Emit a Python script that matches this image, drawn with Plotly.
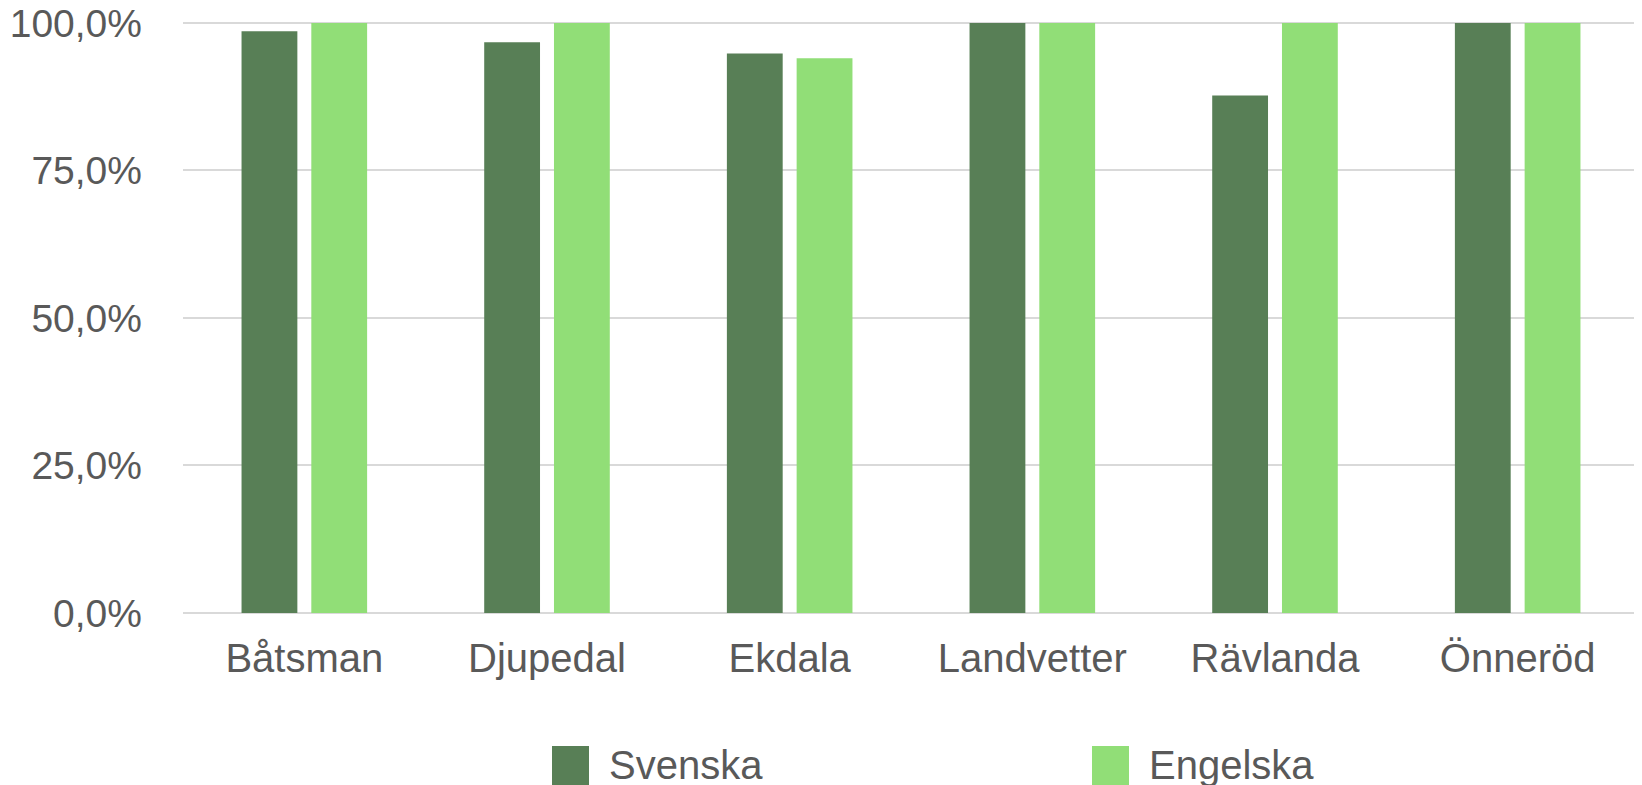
import plotly.graph_objects as go

categories = ["Båtsman", "Djupedal", "Ekdala", "Landvetter", "Rävlanda", "Önneröd"]
svenska = [0.986, 0.967, 0.948, 1.0, 0.877, 1.0]
engelska = [1.0, 1.0, 0.940, 1.0, 1.0, 1.0]
series_names = ["Svenska", "Engelska"]
series_colors = ["#587F56", "#91DE77"]
y_ticks = [0, 0.25, 0.5, 0.75, 1.0]

# the page body has an 8px margin, so the figure is drawn 8px smaller and offset
OFF = 8
W, H = 1642 - OFF, 785 - OFF
ML, MR, MT, MB = 183 - OFF, 3, 17 - OFF, 172
PW = W - ML - MR
PH = H - MT - MB

FONT = "Liberation Sans, Arial, sans-serif"
TXT = "#595959"

fig = go.Figure()
for name, vals, col in zip(series_names, [svenska, engelska], series_colors):
    fig.add_trace(go.Bar(x=categories, y=vals, name=name, marker=dict(color=col, line=dict(width=0)),
                         showlegend=False))

def px_x(px):
    return (px - OFF - ML) / PW

def px_y(py):
    return (H - MB - (py - OFF)) / PH

# custom legend (large swatches like the reference)
legend_x = [552, 1092]
shapes = []
annotations = []
for name, col, lx in zip(series_names, series_colors, legend_x):
    shapes.append(dict(type="rect", xref="paper", yref="paper",
                       x0=px_x(lx), x1=px_x(lx + 37), y0=px_y(786), y1=px_y(746),
                       fillcolor=col, line=dict(width=0), layer="above"))
    annotations.append(dict(xref="paper", yref="paper", x=px_x(lx + 55), y=px_y(765),
                            text=name, showarrow=False, xanchor="left", yanchor="middle",
                            font=dict(family=FONT, size=40, color=TXT)))

fig.update_layout(
    width=W, height=H,
    margin=dict(l=ML, r=MR, t=MT, b=MB, pad=0, autoexpand=False),
    paper_bgcolor="white", plot_bgcolor="white",
    barmode="group", bargap=0.425, bargroupgap=0.2,
    separators=",.",
    shapes=shapes, annotations=annotations,
    showlegend=False,
    font=dict(family=FONT, color=TXT),
)
fig.update_yaxes(range=[0, 1.01], tickvals=y_ticks, tickformat=".1%",
                 automargin=False,
                 showgrid=True, gridcolor="#D9D9D9", gridwidth=2,
                 zeroline=True, zerolinecolor="#D9D9D9", zerolinewidth=2,
                 showline=False, ticks="", ticklabelstandoff=40,
                 ticklabeloverflow="allow",
                 tickfont=dict(family=FONT, size=39, color=TXT))
fig.update_xaxes(automargin=False, showgrid=False, showline=False, ticks="", ticklabelstandoff=18,
                 tickfont=dict(family=FONT, size=40, color=TXT))

fig.write_html("out.html")
